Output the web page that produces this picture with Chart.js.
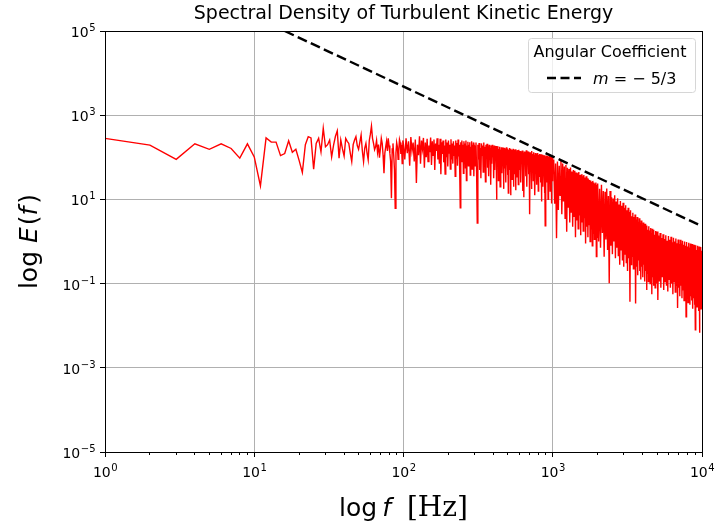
<!DOCTYPE html>
<html lang="en">
<head>
<meta charset="UTF-8">
<title>Spectral Density of Turbulent Kinetic Energy</title>
<style>
    body { margin: 0; background: #fff; }
    #wrap { width: 715px; height: 527px; }
</style>
</head>
<body>
<div id="wrap"><canvas id="spectrum" width="715" height="527"></canvas></div>
<script src="https://cdn.jsdelivr.net/npm/chart.js"></script>
<script>
const logE_f1to99 = [
    2.45, 2.29, 1.95, 2.32, 2.19, 2.32, 2.21, 1.98, 2.32, 2.01,
    1.32, 2.46, 2.36, 2.36, 2.04, 2.09, 2.39, 2.12, 2.19, 1.92,
    1.64, 2.30, 2.49, 2.46, 1.72, 2.33, 2.45, 2.13, 2.69, 2.25,
    2.30, 2.41, 2.01, 2.29, 2.50, 2.63, 1.98, 2.41, 2.20, 2.03,
    2.45, 2.38, 2.33, 2.10, 1.90, 2.30, 2.41, 2.49, 2.28, 2.19,
    2.36, 2.53, 2.15, 1.90, 2.22, 2.33, 2.10, 1.94, 2.40, 2.55,
    2.74, 2.45, 2.33, 2.18, 2.25, 2.40, 2.12, 2.30, 1.99, 2.20,
    2.45, 2.33, 2.05, 1.62, 2.10, 2.25, 2.38, 2.15, 2.45, 2.28,
    2.10, 1.90, 1.03, 2.20, 2.33, 2.05, 1.70, 0.79, 2.10, 2.35,
    2.25, 1.95, 2.16, 2.42, 2.35, 2.08, 2.30, 1.85, 2.40
];
const logE_f100to298 = [
    2.30, 1.95, 2.45, 2.10, 2.38, 1.80, 2.48, 2.15, 2.35, 1.90,
    2.42, 1.39, 2.30, 2.05, 2.50, 1.85, 2.40, 2.20, 2.46, 1.75,
    2.35, 2.00, 2.44, 1.90, 2.28, 2.12, 2.47, 1.82, 2.38, 2.05,
    2.42, 1.70, 2.33, 2.15, 2.45, 1.95, 2.30, 1.85, 2.44, 1.60,
    2.36, 2.08, 2.40, 1.88, 2.28, 1.60, 2.42, 2.00, 2.35, 1.78,
    2.40, 2.10, 2.30, 1.72, 2.43, 1.95, 2.33, 1.85, 2.38, 2.05,
    2.28, 1.55, 2.40, 1.98, 2.34, 1.80, 2.42, 2.02, 2.30, 1.68,
    0.80, 2.36, 1.90, 2.40, 2.05, 2.30, 1.62, 2.38, 1.92, 2.33,
    1.75, 2.40, 1.45, 2.28, 2.00, 2.37, 1.80, 2.30, 1.95, 2.36,
    1.58, 2.25, 2.05, 2.38, 1.72, 2.30, 1.90, 2.35, 1.55, 2.28
];
const logE_f300to597 = [
    2.25, 1.80, 2.35, 1.60, 0.44, 2.30, 1.95, 2.34, 1.70, 2.22,
    1.50, 2.33, 2.05, 2.28, 1.65, 2.35, 1.90, 2.25, 1.42, 2.30,
    2.02, 2.32, 1.75, 2.26, 1.55, 2.30, 1.95, 2.22, 1.35, 2.28,
    1.85, 2.30, 2.00, 2.24, 1.50, 2.28, 1.70, 2.20, 1.92, 2.27,
    0.99, 2.22, 1.80, 2.26, 1.45, 2.20, 2.00, 2.25, 1.30, 2.18,
    1.88, 2.24, 1.62, 2.20, 1.95, 2.23, 1.25, 2.18, 1.75, 2.22,
    2.00, 2.20, 1.40, 2.24, 1.85, 2.16, 1.58, 2.21, 1.15, 2.18,
    1.90, 2.22, 1.70, 2.15, 1.10, 2.20, 1.95, 2.18, 1.48, 2.16,
    1.82, 2.20, 1.30, 2.14, 1.98, 2.18, 1.60, 2.15, 1.22, 2.19,
    1.88, 2.12, 1.52, 2.17, 1.95, 2.14, 1.35, 2.18, 1.78, 2.12
];
const logE_f600to995 = [
    1.70, 2.15, 1.40, 2.12, 1.90, 2.16, 1.20, 2.10, 1.05, 2.14,
    1.85, 2.12, 1.55, 2.17, 1.30, 2.10, 1.92, 2.14, 1.60, 2.08,
    0.65, 2.12, 1.80, 2.10, 1.25, 2.15, 1.70, 2.08, 1.45, 2.12,
    1.88, 2.06, 1.10, 2.10, 1.62, 2.09, 1.35, 2.05, 1.80, 2.10,
    1.20, 2.06, 1.55, 2.08, 1.85, 2.04, 1.40, 2.07, 0.95, 2.05,
    1.72, 2.06, 1.30, 2.03, 1.60, 2.05, 1.15, 2.04, 0.37, 2.02,
    1.65, 2.04, 1.40, 2.01, 1.82, 2.03, 1.00, 2.02, 1.50, 2.00,
    1.75, 2.03, 1.20, 2.00, 1.60, 2.02, 0.90, 1.99, 1.45, 2.01
];
const logE_f1000to1990 = [
    1.60, 1.95, 0.90, 1.85, 0.08, 1.90, 0.75, 1.80, 1.10, 1.92,
    0.65, 1.85, 0.95, 1.78, 0.55, 1.82, 0.23, 1.75, 0.80, 1.72,
    0.45, 1.76, 0.70, 1.66, 0.35, 1.70, 0.60, 1.68, 0.10, 1.64,
    0.50, 1.62, 0.30, 1.65, 0.62, 1.58, 0.15, 1.60, 0.45, 1.55,
    0.25, 1.58, 0.55, 1.52, -0.05, 1.55, 0.35, 1.50, 0.10, 1.48,
    0.40, 1.46, 0.00, 1.45, 0.30, 1.42, -0.10, 1.44, 0.20, 1.40,
    0.05, 1.38, 0.25, 1.40, -0.36, 1.35, 0.10
];
const logE_f2000to4970 = [
    1.38, 0.00, 1.25, -0.15, 1.35, 0.20, 1.20, -0.36, 1.18, 0.05,
    1.26, -0.20, 1.08, -0.99, 1.20, -0.10, 1.05, -0.30, 1.02, 0.00,
    1.10, -0.40, 0.95, -0.15, 1.03, -0.35, 0.88, -0.55, 0.96, -0.20,
    0.85, -0.45, 0.92, -0.60, 0.80, -0.30, 0.86, -0.50, 0.74, -0.70,
    0.80, -0.40, 0.70, -1.43, 0.74, -0.55, 0.60, -0.35, 0.68, -0.65,
    0.58, -0.50, 0.64, -1.47, 0.52, -0.60, 0.58, -0.80, 0.47, -0.45,
    0.55, -0.70, 0.44, -0.90, 0.50, -0.60, 0.38, -0.85, 0.45, -0.55,
    0.36, -0.95, 0.42, -0.70, 0.32, -1.15, 0.38, -0.75, 0.28, -0.95,
    0.36, -0.65, 0.26, -1.00, 0.32, -0.80, 0.20, -1.25, 0.30, -0.85,
    0.22, -1.05, 0.28, -0.75, 0.16, -1.10, 0.25, -0.90, 0.18, -1.00
];
const logE_f5000to9920 = [
    0.24, -1.39, 0.14, -0.95, 0.20, -1.10, 0.08, -0.85, 0.17, -1.15,
    0.06, -0.95, 0.15, -1.05, 0.02, -1.19, 0.13, -0.90, 0.04, -1.10,
    0.11, -1.00, -0.02, -1.25, 0.09, -0.95, 0.00, -1.20, 0.07, -1.05,
    -0.04, -1.58, 0.05, -1.10, -0.06, -1.30, 0.04, -1.05, -0.05, -1.35,
    0.02, -1.15, -0.08, -1.40, 0.00, -1.20, -0.10, -1.79, -0.01, -1.25,
    -0.12, -1.45, -0.03, -1.20, -0.14, -1.50, -0.05, -1.30, -0.13, -1.40,
    -0.06, -1.60, -0.16, -1.35, -0.08, -1.50, -0.18, -2.10, -0.09, -1.40,
    -0.20, -1.55, -0.10, -1.45, -0.22, -1.65, -0.12, -2.17, -0.20, -1.50,
    -0.13, -1.60, -0.22
];

const bandStart = [1, 100, 300, 600, 1000, 2000, 5000];
const bandStep = [1, 2, 3, 5, 15, 30, 60];
const bandLogE = [logE_f1to99, logE_f100to298, logE_f300to597, logE_f600to995,
    logE_f1000to1990, logE_f2000to4970, logE_f5000to9920];

// the -5/3 reference line, its two visible end points
const slopeFreq = [16, 10000];
const slopeE = [1e5, 2.3];

const xMajor = [1, 10, 100, 1000, 10000];
const yMajor = [1e-5, 1e-3, 1e-1, 1e1, 1e3, 1e5];

const spectrum = [];
bandLogE.forEach((vals, b) => {
    vals.forEach((v, i) => {
        spectrum.push({ x: bandStart[b] + bandStep[b] * i, y: Math.pow(10, v) });
    });
});

const xMinor = [];
xMajor.slice(0, -1).forEach(d => {
    for (let k = 2; k <= 9; k++) xMinor.push(k * d);
});

const FONT = '"DejaVu Sans"';

function powLabel(ctx, value, x, baseline, align) {
    const e = Math.round(Math.log10(value));
    const expText = e < 0 ? '\u2212' + (-e) : String(e);
    ctx.font = '14px ' + FONT;
    const w1 = ctx.measureText('10').width;
    ctx.font = '10px ' + FONT;
    const w2 = ctx.measureText(expText).width;
    const start = align === 'right' ? x - w1 - w2 : x - (w1 + w2) / 2;
    ctx.textAlign = 'left';
    ctx.textBaseline = 'alphabetic';
    ctx.font = '14px ' + FONT;
    ctx.fillText('10', start, baseline);
    ctx.font = '10px ' + FONT;
    ctx.fillText(expText, start + w1 + 0.5, baseline - 6);
}

// draws pieces [text, font, gap after] one after the other, centred on 0
function drawPieces(ctx, pieces, baseline) {
    let total = 0;
    pieces.forEach(p => { ctx.font = p[1]; total += ctx.measureText(p[0]).width + (p[2] || 0); });
    let x = -total / 2;
    ctx.textAlign = 'left';
    ctx.textBaseline = 'alphabetic';
    pieces.forEach(p => {
        ctx.font = p[1];
        ctx.fillText(p[0], x, baseline);
        x += ctx.measureText(p[0]).width + (p[2] || 0);
    });
}

const decor = {
    id: 'decor',
    afterDraw(chart) {
        const { ctx, chartArea: a, scales: { x, y } } = chart;
        const al = p => Math.round(p - 0.5) + 0.5;
        ctx.save();
        ctx.strokeStyle = '#000';
        ctx.fillStyle = '#000';
        ctx.lineWidth = 1;

        // frame
        ctx.strokeRect(al(a.left), al(a.top), al(a.right) - al(a.left), al(a.bottom) - al(a.top));

        // ticks
        ctx.beginPath();
        xMajor.forEach(v => {
            const px = al(x.getPixelForValue(v));
            ctx.moveTo(px, a.bottom); ctx.lineTo(px, a.bottom + 5);
        });
        xMinor.forEach(v => {
            const px = al(x.getPixelForValue(v));
            ctx.moveTo(px, a.bottom); ctx.lineTo(px, a.bottom + 3);
        });
        yMajor.forEach(v => {
            const py = al(y.getPixelForValue(v));
            ctx.moveTo(a.left, py); ctx.lineTo(a.left - 5, py);
        });
        ctx.stroke();

        // tick labels
        xMajor.forEach(v => powLabel(ctx, v, x.getPixelForValue(v), a.bottom + 25, 'center'));
        yMajor.forEach(v => powLabel(ctx, v, a.left - 10, y.getPixelForValue(v) + 6, 'right'));

        // axis titles
        ctx.save();
        ctx.translate((a.left + a.right) / 2, 0);
        drawPieces(ctx, [
            ['log', '25px ' + FONT, 5],
            ['f', 'italic 25px ' + FONT, 16],
            ['[Hz]', '28px "DejaVu Serif"']
        ], 516);
        ctx.restore();

        ctx.save();
        ctx.translate(37, (a.top + a.bottom) / 2);
        ctx.rotate(-Math.PI / 2);
        drawPieces(ctx, [
            ['log', '25px ' + FONT, 8],
            ['E', 'italic 25px ' + FONT, 2],
            ['(', '25px ' + FONT, 0],
            ['f', 'italic 25px ' + FONT, 3],
            [')', '25px ' + FONT]
        ], 0);
        ctx.restore();

        // legend
        const lx = 528, ly = 38.5, lw = 167, lh = 54;
        ctx.beginPath();
        ctx.roundRect(lx + 0.5, ly, lw, lh, 3);
        ctx.fillStyle = 'rgba(255,255,255,0.8)';
        ctx.fill();
        ctx.strokeStyle = '#d6d6d6';
        ctx.stroke();

        ctx.fillStyle = '#000';
        ctx.font = '16px ' + FONT;
        ctx.textAlign = 'center';
        ctx.fillText('Angular Coefficient', 610, 57);

        ctx.strokeStyle = '#000';
        ctx.lineWidth = 2.4;
        ctx.setLineDash([9, 4.5]);
        ctx.beginPath();
        ctx.moveTo(547, 78); ctx.lineTo(581, 78);
        ctx.stroke();
        ctx.setLineDash([]);

        ctx.textAlign = 'left';
        ctx.font = 'italic 16px ' + FONT;
        ctx.fillText('m', 593, 83.5);
        const mw = ctx.measureText('m').width;
        ctx.font = '16px ' + FONT;
        ctx.fillText(' = \u2212 5/3', 593 + mw, 83.5);

        ctx.restore();
    }
};

new Chart(document.getElementById('spectrum').getContext('2d'), {
    type: 'line',
    data: {
        datasets: [
            {
                label: 'm = \u22125/3',
                data: slopeFreq.map((f, i) => ({ x: f, y: slopeE[i] })),
                borderColor: '#000',
                borderWidth: 2.4,
                borderDash: [10, 4.4],
                pointRadius: 0,
                fill: false
            },
            {
                label: 'E(f)',
                data: spectrum,
                borderColor: '#ff0000',
                borderWidth: 1.4,
                pointRadius: 0,
                tension: 0,
                fill: false
            }
        ]
    },
    options: {
        responsive: false,
        animation: false,
        events: [],
        layout: { padding: { left: 0, right: 13, top: 0, bottom: 0 } },
        scales: {
            x: {
                type: 'logarithmic',
                min: 1,
                max: 10000,
                afterBuildTicks: s => { s.ticks = xMajor.map(v => ({ value: v })); },
                afterFit: s => { s.height = 75; },
                ticks: { display: false },
                border: { display: false },
                grid: {
                    drawTicks: false,
                    lineWidth: 1,
                    color: c => (c.tick && c.tick.value > 1 && c.tick.value < 10000) ? '#b0b0b0' : 'rgba(0,0,0,0)'
                }
            },
            y: {
                type: 'logarithmic',
                min: 1e-5,
                max: 1e5,
                afterBuildTicks: s => { s.ticks = yMajor.map(v => ({ value: v })); },
                afterFit: s => { s.width = 105; },
                ticks: { display: false },
                border: { display: false },
                grid: {
                    drawTicks: false,
                    lineWidth: 1,
                    color: c => (c.tick && c.tick.value > 1.5e-5 && c.tick.value < 0.9e5) ? '#b0b0b0' : 'rgba(0,0,0,0)'
                }
            }
        },
        plugins: {
            legend: { display: false },
            tooltip: { enabled: false },
            title: {
                display: true,
                text: 'Spectral Density of Turbulent Kinetic Energy',
                color: '#000',
                fullSize: false,
                font: { family: 'DejaVu Sans', size: 19, weight: 'normal' },
                padding: { top: 3, bottom: 5.2 }
            }
        }
    },
    plugins: [decor]
});
</script>
</body>
</html>
